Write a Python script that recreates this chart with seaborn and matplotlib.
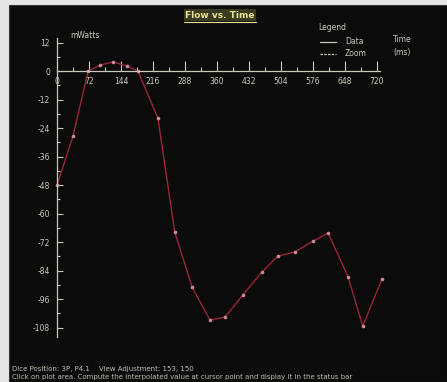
import matplotlib
matplotlib.use("Agg")
import matplotlib.pyplot as plt
import seaborn as sns
import pandas as pd
from matplotlib.patches import Rectangle
from matplotlib.ticker import FixedLocator

# Sampled flow trace (time in ms, flow in mWatts)
time_ms = [0, 36, 70, 97, 126, 157, 182, 227, 265, 304, 344, 378, 418, 461, 497, 535, 576, 610, 655, 688, 731]
flow_mw = [-48, -27.4, 0, 2.5, 3.8, 2.2, 0, -19.8, -67.8, -91, -104.8, -103.6, -94.3, -84.6, -77.9, -76.2, -71.6, -68.2, -86.7, -107.4, -87.6]

x_ticks = [0, 72, 144, 216, 288, 360, 432, 504, 576, 648, 720]
y_ticks = [12, 0, -12, -24, -36, -48, -60, -72, -84, -96, -108]

W, H = 447, 382
fg = "#c9c9bb"

sns.set_theme(style="dark")
plt.rcParams["font.family"] = ["DejaVu Sans"]

fig = plt.figure(figsize=(W / 100, H / 100), dpi=100)
fig.patch.set_facecolor("#e6e6e6")

def fx(px):
    return px / W

def fy(py):
    return 1 - py / H

# black display panel
fig.add_artist(Rectangle((fx(9), 0), 1 - fx(9), fy(5), transform=fig.transFigure,
                         facecolor="#0b0b0b", edgecolor="#3a3a3a", lw=0.8, zorder=0))

ax = fig.add_axes([fx(9), 0, 1 - fx(9), fy(5)])
ax.set_facecolor("#0b0b0b")
ax.patch.set_alpha(0)

df = pd.DataFrame({"time": time_ms, "flow": flow_mw})
sns.lineplot(data=df, x="time", y="flow", ax=ax, sort=False, color="#9a2436", lw=1.0,
             marker="o", markersize=2.6, markerfacecolor="#c88a96", markeredgewidth=0)

ax.set_xlim(-108, 877.5)
ax.set_ylim(-130.9, 27.8)
ax.grid(False)

for s in ["top", "right"]:
    ax.spines[s].set_visible(False)
ax.spines["left"].set_position(("data", 0))
ax.spines["bottom"].set_position(("data", 0))
ax.spines["left"].set_bounds(-112, 14)
ax.spines["bottom"].set_bounds(0, 727)
for s in ["left", "bottom"]:
    ax.spines[s].set_color(fg)
    ax.spines[s].set_linewidth(0.9)

ax.set_xticks(x_ticks)
ax.set_xticklabels([str(v) for v in x_ticks])
ax.set_yticks(y_ticks)
ax.set_yticklabels([str(v) for v in y_ticks])
ax.xaxis.set_minor_locator(FixedLocator([t + 36 for t in x_ticks[:-1]]))
ax.yaxis.set_minor_locator(FixedLocator([t - 6 for t in y_ticks[:-1]]))
ax.tick_params(axis="x", which="major", direction="in", length=7, width=0.8, colors=fg,
               labelsize=5.5, pad=4, bottom=True)
ax.tick_params(axis="x", which="minor", direction="in", length=3, width=0.8, colors=fg, bottom=True)
ax.tick_params(axis="y", which="major", direction="in", length=4, width=0.8, colors=fg,
               labelsize=5.5, pad=5, left=True)
ax.tick_params(axis="y", which="minor", direction="in", length=2, width=0.8, colors=fg, left=True)
ax.set_xlabel("")
ax.set_ylabel("")

# title with underline
fig.text(fx(220), fy(15), "Flow vs. Time", color="#e8e49a", fontsize=6.5, ha="center",
         va="center", fontweight="bold",
         bbox=dict(boxstyle="square,pad=0.15", facecolor="#3a3a20", edgecolor="none"))
fig.add_artist(plt.Line2D([fx(184), fx(256)], [fy(22), fy(22)], color="#e8e49a", lw=0.8,
                          transform=fig.transFigure))

# units
fig.text(fx(70), fy(35), "mWatts", color=fg, fontsize=5.5, ha="left", va="center")
fig.text(fx(393), fy(40), "Time", color=fg, fontsize=5.5, ha="left", va="center")
fig.text(fx(393), fy(53), "(ms)", color=fg, fontsize=5.5, ha="left", va="center")

# legend block
fig.text(fx(318), fy(27), "Legend", color=fg, fontsize=5.5, ha="left", va="center")
fig.add_artist(plt.Line2D([fx(320), fx(336)], [fy(42), fy(42)], color=fg, lw=0.9,
                          transform=fig.transFigure))
fig.text(fx(345), fy(42), "Data", color=fg, fontsize=5.5, ha="left", va="center")
fig.add_artist(plt.Line2D([fx(320), fx(336)], [fy(54), fy(54)], color=fg, lw=0.9, ls=(0, (2, 1)),
                          transform=fig.transFigure))
fig.text(fx(345), fy(54), "Zoom", color=fg, fontsize=5.5, ha="left", va="center")

# status lines
fig.text(fx(12), fy(369), "Dice Position: 3P, P4.1    View Adjustment: 153, 150",
         color="#bdbdb0", fontsize=5.0, ha="left", va="center")
fig.text(fx(12), fy(377.5), "Click on plot area. Compute the interpolated value at cursor point and display it in the status bar",
         color="#bdbdb0", fontsize=5.0, ha="left", va="center")

fig.savefig("out.png", dpi=100, facecolor=fig.get_facecolor())
